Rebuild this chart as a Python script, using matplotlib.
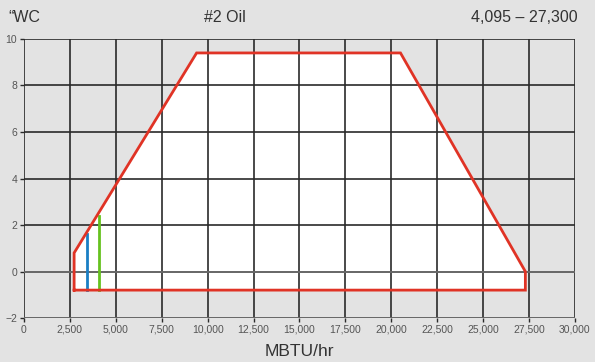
import matplotlib
matplotlib.use("Agg")
import matplotlib.pyplot as plt
import matplotlib.ticker as ticker

plt.rcParams['font.family'] = ['Liberation Sans', 'DejaVu Sans']

# firing range envelope (MBTU/hr vs "WC)
env_x = [2730, 2730, 9400, 20500, 27300, 27300, 2730]
env_y = [-0.8, 0.8, 9.4, 9.4, 0.0, -0.8, -0.8]

# marker lines
blue_x = [3450, 3450]
blue_y = [-0.8, 1.6]
green_x = [4095, 4095]
green_y = [-0.8, 2.4]

x_ticks = list(range(0, 30001, 2500))
y_ticks = list(range(-2, 11, 2))

bg = '#e3e3e3'
fig = plt.figure(figsize=(5.95, 3.62), dpi=100, facecolor=bg)
ax = fig.add_axes([0.0403, 0.1215, 0.926, 0.7708])
ax.set_facecolor(bg)

ax.fill(env_x, env_y, color='white', zorder=1)

# grid
for xv in x_ticks:
    ax.axvline(xv, color='#2a2a2a', lw=1.2, zorder=2)
for yv in y_ticks:
    c = '#666666' if yv in (0, -2) else '#2a2a2a'
    ax.axhline(yv, color=c, lw=1.4 if yv in (0, -2) else 1.2, zorder=2)

ax.plot(env_x, env_y, color='#e03325', lw=2, zorder=4, solid_joinstyle='miter')
ax.plot(blue_x, blue_y, color='#1a7fc4', lw=2, zorder=3)
ax.plot(green_x, green_y, color='#66c21f', lw=2, zorder=3)

ax.set_xlim(0, 30000)
ax.set_ylim(-2, 10)
ax.set_xticks(x_ticks)
ax.set_yticks(y_ticks)
ax.xaxis.set_major_formatter(ticker.FuncFormatter(lambda v, p: '{:,}'.format(int(v))))
ax.tick_params(axis='both', length=3, width=1, color='#2a2a2a', labelsize=7.5,
               labelcolor='#555555', pad=2)
for s in ax.spines.values():
    s.set_visible(False)

fig.text(299 / 595, 1 - 352 / 362, 'MBTU/hr', fontsize=12.5, color='#333333', va='center', ha='center')

fig.text(8 / 595, 1 - 18 / 362, '\u201cWC', fontsize=11.5, color='#333333', va='center', ha='left')
fig.text(225 / 595, 1 - 17 / 362, '#2 Oil', fontsize=11.5, color='#333333', va='center', ha='center')
fig.text(578 / 595, 1 - 17 / 362, '4,095 \u2013 27,300', fontsize=11.5, color='#333333', va='center', ha='right')

plt.savefig('out.png', dpi=100, facecolor=bg)
